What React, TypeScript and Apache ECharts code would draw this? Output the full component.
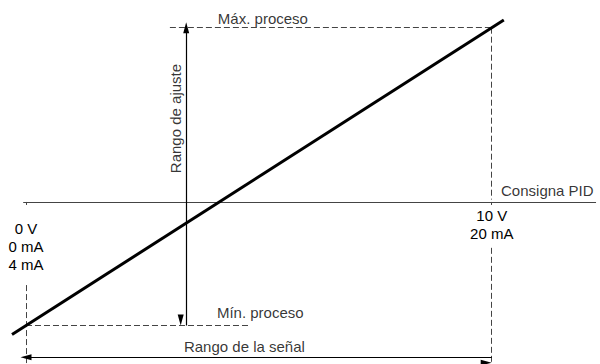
import React, { useEffect, useRef } from "react";
import * as echarts from "echarts";

// Signal axis (volts) ticks and their labels
const tickValues = [0, 10];
const tickLabels = ["0 V\n0 mA\n4 mA", "10 V\n20 mA"];

// Characteristic line (x = signal in V, y = process value, setpoint axis at 0)
const lineX = [-0.3, 10.26];
const lineY = [-44.5, 61.1];

// Process limits
const procMax = 58.5;
const procMin = -41.5;

// Setpoint axis line extent (V)
const setpointAxisX = [-0.06, 12.24];

// Guide positions
const adjustArrowX = 3.44;
const maxGuideStartX = 3.09;
const minGuideEndX = 4.81;
const signalArrowY = -52.1;
const leftGuideTopY = -27.9;
const rightGuideAxisY = 0.8;
const rightGuideLowTopY = -15.4;

// Axis extents
const xMin = -0.558;
const xMax = 12.325;
const yMin = -54.4;
const yMax = 67.8;

// Annotations
const annTexts = ["Máx. proceso", "Mín. proceso", "Rango de la señal", "Consigna PID", "Rango de ajuste"];
const annX = [4.12, 4.1, 4.69, 10.2, 3.2];
const annY = [61.7, -37.2, -48.6, 4.0, 28.0];
const annAlign = ["left", "left", "center", "left", "center"];
const annRotate = [0, 0, 0, 0, 90];

const FONT = "'Liberation Sans', Arial, Helvetica, sans-serif";
const CHART_H = 364;

export default function App() {
  const ref = useRef<HTMLDivElement>(null);
  useEffect(() => {
    if (!ref.current) return;
    const chart = echarts.init(ref.current, null, { renderer: "svg" });
    const dashStyle = { color: "#444", width: 1, type: [6, 3] as any };
    // place the signal axis at process value 0 (setpoint line)
    const axisOffset = -CHART_H * ((0 - yMin) / (yMax - yMin));
    const option: any = {
      animation: false,
      backgroundColor: "#fff",
      grid: { left: 0, right: 0, top: 0, bottom: 0, containLabel: false, outerBoundsMode: "none" },
      xAxis: {
        type: "value",
        min: xMin,
        max: xMax,
        position: "bottom",
        offset: axisOffset,
        splitLine: { show: false },
        axisLine: { show: false, onZero: false },
        axisTick: { show: true, length: 3, customValues: tickValues, lineStyle: { color: "#444" } },
        axisLabel: {
          show: true,
          customValues: tickValues,
          margin: 5,
          color: "#000",
          fontFamily: FONT,
          fontSize: 15,
          lineHeight: 18,
          align: "center",
          formatter: (v: number) => {
            const i = tickValues.indexOf(v);
            if (i < 0) return "";
            return i === 0 ? "{g| }\n" + tickLabels[i] : tickLabels[i];
          },
          rich: { g: { fontSize: 1, lineHeight: 12.5, height: 12.5 } },
        },
      },
      yAxis: {
        type: "value",
        min: yMin,
        max: yMax,
        show: false,
        splitLine: { show: false },
      },
      series: [
        {
          type: "line",
          data: lineX.map((x, i) => [x, lineY[i]]),
          clip: false,
          symbol: "none",
          lineStyle: { color: "#000", width: 3 },
          z: 5,
        },
        {
          type: "line",
          data: [],
          markLine: {
            silent: true,
            symbol: "none",
            label: { show: false },
            lineStyle: { color: "#444", width: 1, type: "solid" },
            data: [[{ coord: [setpointAxisX[0], 0] }, { coord: [setpointAxisX[1], 0] }]],
          },
        },
        {
          type: "line",
          data: [],
          markLine: {
            silent: true,
            symbol: "none",
            label: { show: false },
            lineStyle: dashStyle,
            data: [
              [{ coord: [maxGuideStartX, procMax] }, { coord: [tickValues[1], procMax] }],
              [{ coord: [tickValues[0], procMin] }, { coord: [minGuideEndX, procMin] }],
              [{ coord: [tickValues[0], leftGuideTopY] }, { coord: [tickValues[0], yMin] }],
              [{ coord: [tickValues[1], procMax] }, { coord: [tickValues[1], rightGuideAxisY] }],
              [{ coord: [tickValues[1], rightGuideLowTopY] }, { coord: [tickValues[1], yMin] }],
            ],
          },
        },
        {
          type: "line",
          data: [],
          markLine: {
            silent: true,
            symbol: ["triangle", "triangle"],
            symbolSize: [6, 11],
            symbolOffset: [0, 5.5],
            label: { show: false },
            lineStyle: { color: "#000", width: 1.2, type: "solid" },
            itemStyle: { color: "#000" },
            data: [
              [{ coord: [adjustArrowX, procMax] }, { coord: [adjustArrowX, procMin] }],
              [{ coord: [tickValues[0], signalArrowY] }, { coord: [tickValues[1], signalArrowY] }],
            ],
          },
        },
        {
          type: "scatter",
          symbolSize: 0,
          silent: true,
          data: annTexts.map((t, i) => ({
            value: [annX[i], annY[i]],
            name: t,
            label: { align: annAlign[i], rotate: annRotate[i] },
          })),
          label: {
            show: true,
            position: "inside",
            formatter: (p: any) => p.name,
            color: "#000",
            fontFamily: FONT,
            fontSize: 15,
            verticalAlign: "middle",
          },
        },
      ],
    };
    chart.setOption(option);
    return () => chart.dispose();
  }, []);
  return (
    <div
      ref={ref}
      style={{ position: "absolute", left: 0, top: 0, width: 600, height: CHART_H }}
    />
  );
}
